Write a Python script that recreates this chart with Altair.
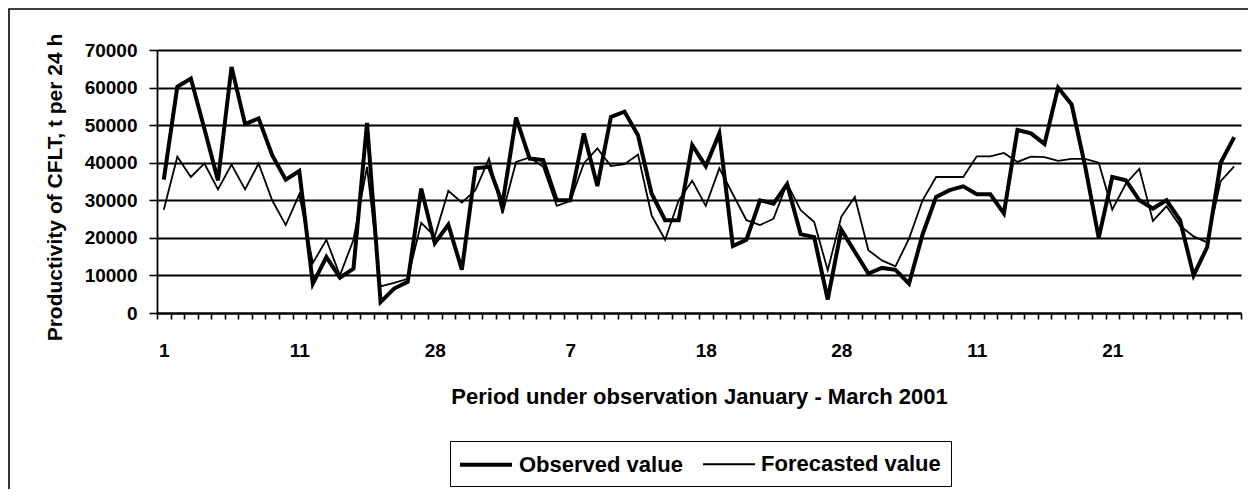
import altair as alt
import pandas as pd

# ---- data ----
day_index = list(range(80))
observed = [35500, 60200, 62400, 49000, 35300, 65500, 50300, 51800, 42000, 35500,
            37800, 7800, 14900, 9400, 11800, 50600, 2900, 6500, 8300, 33100,
            18600, 23500, 11500, 38500, 38900, 29100, 52000, 41100, 40700, 30000,
            30000, 47800, 33800, 52200, 53600, 47300, 31800, 24700, 24700, 44700,
            39100, 47800, 17800, 19500, 30000, 29100, 34300, 21000, 20200, 3600,
            22200, 16300, 10500, 12000, 11500, 7800, 20900, 30900, 32700, 33700,
            31600, 31600, 26500, 48700, 47800, 45000, 60000, 55500, 39000, 20000,
            36200, 35300, 30000, 27800, 30000, 24700, 10000, 17500, 40000, 46800]
forecast = [27500, 41600, 36200, 39800, 32900, 39500, 32900, 39800, 30000, 23400,
            31600, 13300, 19500, 10000, 19500, 38900, 7100, 8000, 9100, 24000,
            20400, 32500, 29400, 32700, 41100, 26500, 40200, 41400, 38900, 28500,
            29800, 39800, 43800, 39100, 39600, 42200, 26000, 19500, 30000, 35200,
            28500, 38500, 31600, 24700, 23400, 25100, 34500, 27400, 24200, 11400,
            25600, 30900, 16700, 14000, 12400, 19800, 30000, 36200, 36200, 36200,
            41700, 41700, 42600, 40200, 41600, 41500, 40500, 41000, 41000, 40000,
            27500, 34400, 38400, 24500, 28400, 23200, 20400, 18800, 35100, 39000]
tick_labels = ["1", "11", "28", "7", "18", "28", "11", "21"]
series_names = ["Observed value", "Forecasted value"]
y_ticks = [0, 10000, 20000, 30000, 40000, 50000, 60000, 70000]

df = pd.DataFrame({
    "idx": day_index + day_index,
    "value": observed + forecast,
    "series": [series_names[0]] * len(observed) + [series_names[1]] * len(forecast),
})

FONT = "Liberation Sans"
W, H = 1084, 263
n = len(day_index)
half = W / n / 2
x_bounds = [i - 0.5 for i in range(n + 1)]
label_arr = "[" + ",".join("'" + t + "'" for t in tick_labels) + "]"
label_expr = ("((datum.value + 0.5) % 10 == 0 && (datum.value + 0.5) / 10 < "
              + str(len(tick_labels)) + ") ? " + label_arr
              + "[(datum.value + 0.5) / 10] : ''")

lines = alt.Chart(df).mark_line(color="black", strokeJoin="miter").encode(
    x=alt.X("idx:Q",
            scale=alt.Scale(domain=[-0.5, n - 0.5], nice=False, zero=False),
            axis=alt.Axis(values=x_bounds, labelExpr=label_expr, labelOffset=half,
                          labelOverlap=False, labelFlush=False, grid=False,
                          tickSize=6, tickColor="black", tickWidth=1.6,
                          domainColor="black", domainWidth=1.8,
                          labelFont=FONT, labelFontSize=19, labelFontWeight="bold",
                          labelColor="black", labelPadding=22,
                          title="Period under observation January - March 2001",
                          titleFont=FONT, titleFontSize=22, titleFontWeight="bold",
                          titleColor="black", titleX=W / 2, titleY=83,
                          titleAlign="center", titleBaseline="middle")),
    y=alt.Y("value:Q",
            scale=alt.Scale(domain=[0, 70000], nice=False),
            axis=alt.Axis(values=y_ticks, format="d", grid=True, gridColor="black",
                          gridWidth=1.8, gridOpacity=1, tickSize=8, tickColor="black",
                          tickWidth=1.6, domainColor="black", domainWidth=1.8,
                          labelFont=FONT, labelFontSize=19, labelFontWeight="bold",
                          labelColor="black", labelPadding=12,
                          title="Productivity of CFLT, t per 24 h",
                          titleFont=FONT, titleFontSize=21, titleFontWeight="bold",
                          titleColor="black", titleAngle=-90, titleX=-102, titleY=137,
                          titleAlign="center", titleBaseline="middle")),
    strokeWidth=alt.StrokeWidth(
        "series:N",
        scale=alt.Scale(domain=series_names, range=[4, 1.8]),
        sort=series_names,
        legend=alt.Legend(orient="none", legendX=293, legendY=391,
                          direction="horizontal", title=None,
                          strokeColor="black", padding=10, cornerRadius=0,
                          symbolType="M-1.174,0H3.348", symbolSize=529,
                          symbolStrokeColor="black", labelFont=FONT,
                          labelFontSize=22, labelFontWeight="bold",
                          labelColor="black", labelOffset=32, columnPadding=16,
                          labelLimit=600)),
)

frame = alt.Chart(pd.DataFrame({"k": [0]})).mark_rect(
    fill=None, stroke="black", strokeWidth=1.6
).encode(
    x=alt.value(-148), x2=alt.value(1300), y=alt.value(-41), y2=alt.value(700)
)

chart = alt.layer(frame, lines).properties(
    width=W, height=H,
    background="white",
    autosize=alt.AutoSizeParams(type="none"),
    padding={"left": 149, "top": 42, "right": 7, "bottom": 176},
).configure_view(stroke=None)

chart.save("out.html", embed_options={"renderer": "svg", "actions": False})
